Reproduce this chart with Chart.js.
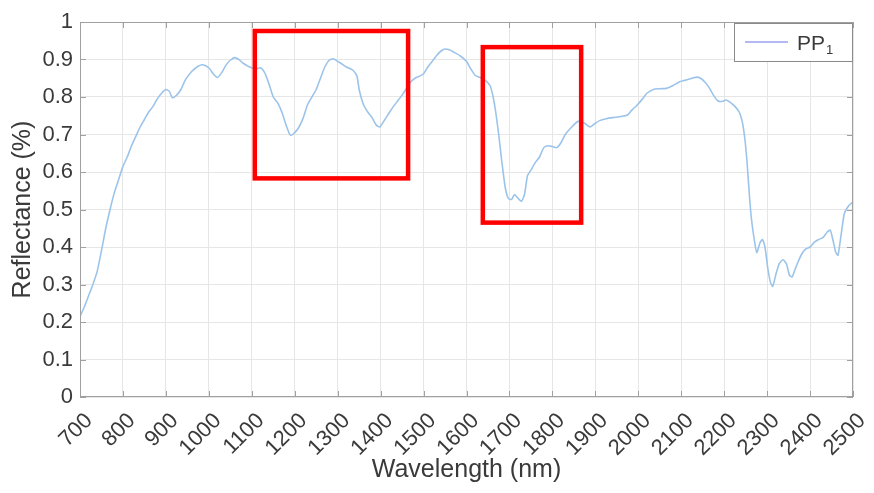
<!DOCTYPE html>
<html>
<head>
<meta charset="utf-8">
<script src="https://cdn.jsdelivr.net/npm/chart.js@4"></script>
<style>
  html, body { margin: 0; padding: 0; background: #fff; }
  #wrap { width: 874px; height: 493px; position: relative; }
</style>
</head>
<body>
<div id="wrap"><canvas id="spec"></canvas></div>
<script>
// ─── data ────────────────────────────────────────────────────────────────────
const WAVELENGTH = [
  700, 710, 720, 730, 740, 750, 760, 770, 780, 790, 800, 810, 820, 830, 840, 850, 860, 870, 880, 890,
  900, 908, 915, 925, 935, 945, 960, 975, 985, 1000, 1010, 1020, 1030, 1040, 1050, 1060, 1070, 1080, 1095, 1110,
  1120, 1130, 1140, 1150, 1160, 1170, 1180, 1190, 1200, 1210, 1220, 1230, 1240, 1250, 1260, 1270, 1280, 1290, 1300, 1310,
  1320, 1335, 1345, 1350, 1360, 1370, 1380, 1390, 1398, 1410, 1420, 1430, 1440, 1450, 1460, 1470, 1480, 1490, 1500, 1510,
  1520, 1530, 1540, 1550, 1560, 1570, 1585, 1600, 1610, 1620, 1635, 1645, 1655, 1662, 1668, 1675, 1682, 1690, 1697, 1705,
  1712, 1720, 1728, 1735, 1742, 1750, 1760, 1770, 1780, 1790, 1800, 1810, 1820, 1830, 1845, 1860, 1875, 1888, 1900, 1910,
  1925, 1940, 1960, 1975, 1985, 1997, 2010, 2020, 2035, 2050, 2065, 2080, 2095, 2110, 2125, 2136, 2145, 2155, 2165, 2175,
  2185, 2195, 2205, 2215, 2225, 2235, 2242, 2248, 2253, 2258, 2263, 2270, 2276, 2283, 2289, 2295, 2302, 2308, 2313, 2320,
  2328, 2337, 2345, 2352, 2358, 2365, 2372, 2380, 2390, 2400, 2410, 2420, 2430, 2440, 2447, 2453, 2460, 2465, 2472, 2480,
  2490, 2500,
];
const REFLECTANCE = [
  0.215, 0.24, 0.27, 0.30, 0.335, 0.39, 0.45, 0.50, 0.545, 0.58, 0.615, 0.64, 0.67, 0.695, 0.72, 0.74, 0.76, 0.775, 0.795, 0.81,
  0.82, 0.815, 0.798, 0.805, 0.82, 0.845, 0.868, 0.882, 0.886, 0.878, 0.862, 0.852, 0.865, 0.885, 0.898, 0.905, 0.90, 0.89, 0.88, 0.875,
  0.878, 0.865, 0.835, 0.80, 0.785, 0.76, 0.725, 0.698, 0.705, 0.72, 0.745, 0.78, 0.80, 0.82, 0.85, 0.88, 0.898, 0.902, 0.895, 0.888,
  0.88, 0.872, 0.855, 0.82, 0.78, 0.76, 0.745, 0.725, 0.72, 0.74, 0.758, 0.775, 0.79, 0.805, 0.822, 0.84, 0.85, 0.855, 0.862, 0.88,
  0.895, 0.91, 0.922, 0.928, 0.926, 0.92, 0.91, 0.895, 0.875, 0.858, 0.85, 0.843, 0.83, 0.80, 0.76, 0.70, 0.63, 0.56, 0.53, 0.527,
  0.54, 0.53, 0.522, 0.54, 0.59, 0.605, 0.625, 0.64, 0.665, 0.67, 0.668, 0.665, 0.678, 0.70, 0.72, 0.735, 0.73, 0.72, 0.73, 0.737,
  0.742, 0.745, 0.748, 0.752, 0.765, 0.778, 0.795, 0.81, 0.82, 0.822, 0.823, 0.83, 0.84, 0.845, 0.85, 0.853, 0.85, 0.84, 0.825, 0.805,
  0.79, 0.788, 0.792, 0.785, 0.775, 0.76, 0.735, 0.69, 0.63, 0.55, 0.48, 0.42, 0.385, 0.41, 0.42, 0.40, 0.34, 0.305, 0.295, 0.325,
  0.355, 0.366, 0.355, 0.325, 0.32, 0.34, 0.36, 0.38, 0.395, 0.40, 0.413, 0.42, 0.425, 0.44, 0.445, 0.42, 0.385, 0.378, 0.43, 0.49,
  0.51, 0.52,
];
const SERIES_LABEL = 'PP₁';
const X_TICKS = [700, 800, 900, 1000, 1100, 1200, 1300, 1400, 1500, 1600, 1700, 1800, 1900, 2000, 2100, 2200, 2300, 2400, 2500];
const Y_TICKS = [0, 0.1, 0.2, 0.3, 0.4, 0.5, 0.6, 0.7, 0.8, 0.9, 1];
// highlighted absorption regions: [x0, x1, y0, y1] in data units
const HIGHLIGHTS = [
  [1107, 1464, 0.583, 0.976],
  [1638, 1867, 0.465, 0.933],
];

const FONT = 'Liberation Sans, Arial, sans-serif';
const TEXT = '#3a3a3a';
const AXIS = '#a0a0a0';

// ─── plugins ─────────────────────────────────────────────────────────────────
const boxAndTicks = {
  id: 'boxAndTicks',
  afterDatasetsDraw(chart) {
    const { ctx, chartArea: a, scales: { x, y } } = chart;
    ctx.save();
    ctx.strokeStyle = AXIS;
    ctx.lineWidth = 1;
    ctx.strokeRect(a.left + 0.5, a.top + 0.5, a.right - a.left - 1, a.bottom - a.top - 1);
    ctx.beginPath();
    X_TICKS.forEach(v => {
      const px = Math.round(x.getPixelForValue(v)) + 0.5;
      ctx.moveTo(px, a.bottom); ctx.lineTo(px, a.bottom - 6);
      ctx.moveTo(px, a.top);    ctx.lineTo(px, a.top + 6);
    });
    Y_TICKS.forEach(v => {
      const py = Math.round(y.getPixelForValue(v)) + 0.5;
      ctx.moveTo(a.left, py);  ctx.lineTo(a.left + 6, py);
      ctx.moveTo(a.right, py); ctx.lineTo(a.right - 6, py);
    });
    ctx.stroke();

    // red highlight boxes
    ctx.strokeStyle = '#ff0000';
    ctx.lineWidth = 4.5;
    HIGHLIGHTS.forEach(([x0, x1, y0, y1]) => {
      const l = x.getPixelForValue(x0), r = x.getPixelForValue(x1);
      const t = y.getPixelForValue(y1), b = y.getPixelForValue(y0);
      ctx.strokeRect(l, t, r - l, b - t);
    });

    // legend box (top-right, inside axes)
    const lw = 119, lh = 39;
    const lx = a.right - lw, ly = a.top + 1;
    ctx.fillStyle = '#fff';
    ctx.fillRect(lx, ly, lw, lh);
    ctx.strokeStyle = '#8a8a8a';
    ctx.lineWidth = 1;
    ctx.strokeRect(lx + 0.5, ly + 0.5, lw - 1, lh - 1);
    ctx.strokeStyle = '#b4b8f4';
    ctx.lineWidth = 2;
    ctx.beginPath();
    ctx.moveTo(lx + 11, ly + 19); ctx.lineTo(lx + 54, ly + 19);
    ctx.stroke();
    ctx.fillStyle = TEXT;
    ctx.textBaseline = 'alphabetic';
    ctx.textAlign = 'left';
    ctx.font = `21px ${FONT}`;
    ctx.fillText('PP', lx + 63, ly + 27);
    const w = ctx.measureText('PP').width;
    ctx.font = `13px ${FONT}`;
    ctx.fillText('1', lx + 63 + w + 1, ly + 31);
    ctx.restore();
  },
};

// ─── chart ───────────────────────────────────────────────────────────────────
Chart.defaults.font.family = FONT;
Chart.defaults.color = TEXT;

new Chart(document.getElementById('spec').getContext('2d'), {
  type: 'line',
  data: {
    datasets: [{
      label: SERIES_LABEL,
      data: WAVELENGTH.map((w, i) => ({ x: w, y: REFLECTANCE[i] })),
      borderColor: '#9cc4ea',
      borderWidth: 1.6,
      pointRadius: 0,
      tension: 0.2,
      fill: false,
    }],
  },
  options: {
    responsive: true, maintainAspectRatio: false, animation: false,
    layout: { padding: { top: 22, right: 21, left: 0, bottom: 0 } },
    plugins: { legend: { display: false }, tooltip: { enabled: false } },
    scales: {
      x: {
        type: 'linear', min: 700, max: 2500,
        afterBuildTicks: s => { s.ticks = X_TICKS.map(v => ({ value: v })); },
        afterFit: s => { s.height = 96; s.paddingLeft = 0; s.paddingRight = 0; },
        grid: { color: '#e6e6e6', drawTicks: false },
        border: { display: false },
        ticks: {
          autoSkip: false, maxRotation: 45, minRotation: 45, padding: 11, labelOffset: 9,
          font: { size: 22 }, color: TEXT,
          callback: v => String(v),
        },
        title: {
          display: true, text: 'Wavelength (nm)', color: TEXT,
          font: { size: 25 }, padding: { top: 0, bottom: 8 },
        },
      },
      y: {
        min: 0, max: 1,
        afterBuildTicks: s => { s.ticks = Y_TICKS.map(v => ({ value: v })); },
        afterFit: s => { s.width = 80; },
        grid: { color: '#e6e6e6', drawTicks: false },
        border: { display: false },
        ticks: {
          padding: 7, font: { size: 22 }, color: TEXT,
          callback: v => String(+v.toFixed(1)),
        },
        title: {
          display: true, text: 'Reflectance (%)', color: TEXT,
          font: { size: 25 }, padding: { top: 8, bottom: 0 },
        },
      },
    },
  },
  plugins: [boxAndTicks],
});
</script>
</body>
</html>
